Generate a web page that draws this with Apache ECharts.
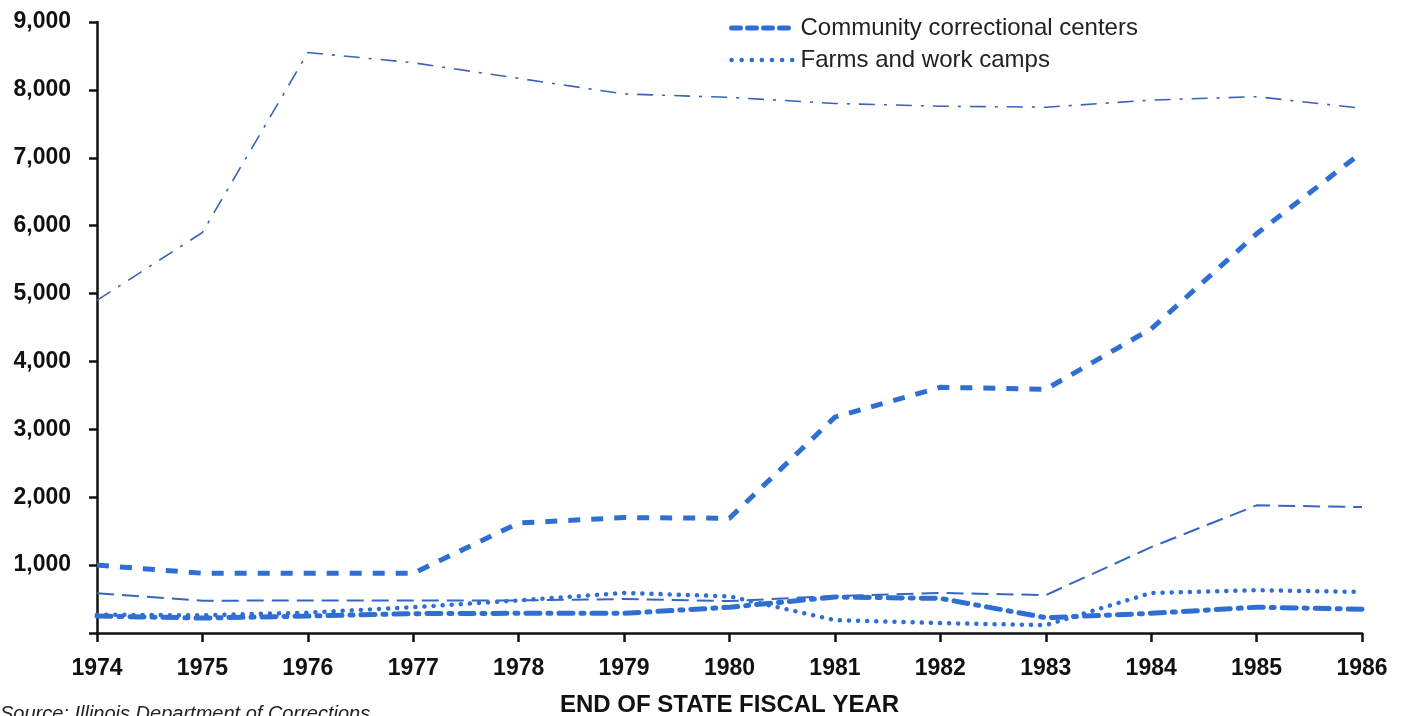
<!DOCTYPE html>
<html>
<head>
<meta charset="utf-8">
<script src="https://cdn.jsdelivr.net/npm/echarts@6/dist/echarts.min.js"></script>
<style>
html,body{margin:0;padding:0;background:#fff;}
#chart{width:1405px;height:716px;}
</style>
</head>
<body>
<div id="chart"></div>
<script>
const years = ['1974','1975','1976','1977','1978','1979','1980','1981','1982','1983','1984','1985','1986'];
const yTicks = [1000,2000,3000,4000,5000,6000,7000,8000,9000];
const maxSecurity = [4900,5900,8550,8400,8170,7940,7890,7800,7760,7745,7850,7900,7730];
const community = [1000,880,880,880,1620,1700,1690,3180,3620,3590,4480,5880,7080];
const medium = [585,475,480,480,480,500,470,545,590,558,1265,1880,1855];
const farms = [270,260,300,380,480,590,540,190,146,116,590,630,605];
const minimum = [250,220,250,285,290,290,380,530,510,225,290,380,350];
const legendNames = ['Community correctional centers','Farms and work camps'];

const blue = '#2f6fd4';
const FONT = 'Liberation Sans, Arial, sans-serif';
const chart = echarts.init(document.getElementById('chart'));
function line(name, data, width, type, color, cap) {
  return {
    name, type:'line', data, symbol:'none', smooth:false, z: 3,
    lineStyle:{color: color||blue, width, type, cap: cap||'butt'},
    itemStyle:{color: color||blue}
  };
}
chart.setOption({
  animation:false,
  textStyle:{fontFamily:FONT},
  grid:{left:97, right:43, top:22, bottom:83, containLabel:false, outerBoundsMode:'none'},
  legend:{
    data: [
      {name: legendNames[0], itemStyle:{opacity:0}, lineStyle:{width:5, type:[9,7], color:blue, cap:'round'}},
      {name: legendNames[1], itemStyle:{opacity:0}, lineStyle:{width:4.5, type:[0.1,10], color:blue, cap:'round'}}
    ],
    orient:'vertical', left:724, top:11, itemGap:8,
    itemWidth:62, itemHeight:14,
    textStyle:{fontSize:24, color:'#222', fontFamily:FONT, padding:[0,0,0,2]}
  },
  graphic:[
    {type:'text', left:0, top:704, style:{text:'Source: Illinois Department of Corrections', font:'italic 20px ' + FONT, fill:'#222'}}
  ],
  xAxis:{
    type:'category', data: years, boundaryGap:false,
    name:'END OF STATE FISCAL YEAR', nameLocation:'middle', nameGap:60,
    nameTextStyle:{fontSize:24, fontWeight:'bold', color:'#111', fontFamily:FONT},
    axisLine:{lineStyle:{color:'#111', width:2.5}},
    axisTick:{show:true, alignWithLabel:true, length:9, lineStyle:{color:'#111', width:2.5}},
    axisLabel:{fontSize:23, fontWeight:'bold', color:'#111', margin:24},
    splitLine:{show:false}
  },
  yAxis:{
    type:'value', min:0, max:9000, interval:1000,
    axisLine:{show:true, lineStyle:{color:'#111', width:2.5}},
    axisTick:{show:true, inside:false, length:8, lineStyle:{color:'#111', width:2.5}},
    axisLabel:{fontSize:23, fontWeight:'bold', color:'#111', margin:26,
      formatter: v => yTicks.indexOf(v) >= 0 ? v.toLocaleString('en-US') : ''},
    splitLine:{show:false}
  },
  series:[
    line('Maximum security prisons', maxSecurity, 1.6, [16,9,3,9], '#3a62b8'),
    line('Community correctional centers', community, 5, [12,11], blue),
    line('Medium security prisons', medium, 2, [17,8], '#3566c4'),
    line('Farms and work camps', farms, 4.5, [0.1,9], blue, 'round'),
    line('Minimum security prisons', minimum, 5, [14,8,3,8], blue, 'round')
  ]
});
</script>
</body>
</html>
